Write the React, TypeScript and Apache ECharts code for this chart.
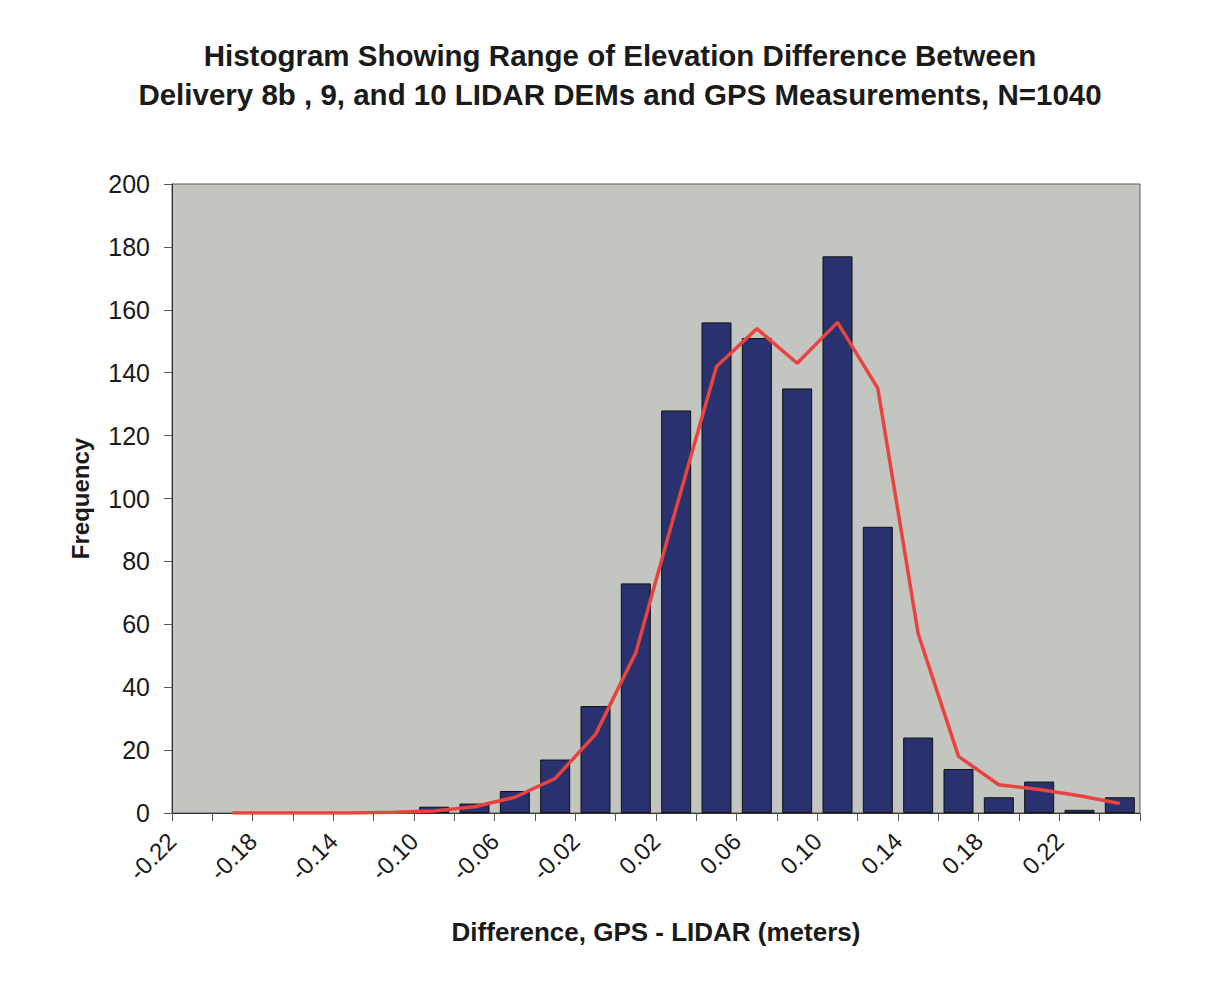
import React, { useEffect, useRef } from "react";
import * as echarts from "echarts";

// Histogram bins: lower edges (meters), width 0.02
const binStarts = [
  -0.22, -0.2, -0.18, -0.16, -0.14, -0.12, -0.1, -0.08, -0.06, -0.04, -0.02, 0.0,
  0.02, 0.04, 0.06, 0.08, 0.1, 0.12, 0.14, 0.16, 0.18, 0.2, 0.22, 0.24,
];
const binWidth = 0.02;
const frequency = [
  0, 0, 0, 0, 0, 0, 2, 3, 7, 17, 34, 73, 128, 156, 151, 135, 177, 91, 24, 14, 5, 10, 1, 5,
];
const fitted = [
  null, 0, 0, 0, 0, 0.2, 0.6, 2, 5, 11, 25, 51, 97, 142, 154, 143, 156, 135, 57, 18, 9, 7.5, 5.5, 3,
];
const yTicks = { min: 0, max: 200, interval: 20 };
const xRange = { min: -0.22, max: 0.26, interval: 0.02 };

const titleText =
  "Histogram Showing Range of Elevation Difference Between\nDelivery 8b , 9, and 10 LIDAR DEMs and GPS Measurements, N=1040";
const xName = "Difference, GPS - LIDAR (meters)";
const yName = "Frequency";

const FONT = "'Liberation Sans', Arial, Helvetica, sans-serif";

export default function App() {
  const ref = useRef<HTMLDivElement>(null);
  useEffect(() => {
    if (!ref.current) return;
    const chart = echarts.init(ref.current, undefined, { renderer: "svg" });
    const centers = binStarts.map((s) => Math.round((s + binWidth / 2) * 1000) / 1000);
    const barData = centers.map((c, i) => [c, frequency[i]]).filter((d) => (d[1] as number) > 0);
    const lineData = centers
      .map((c, i) => [c, fitted[i]])
      .filter((d) => d[1] !== null);
    chart.setOption({
      animation: false,
      backgroundColor: "#ffffff",
      textStyle: { fontFamily: FONT },
      title: {
        text: titleText,
        left: 615,
        textAlign: "center",
        top: 31,
        textStyle: {
          fontFamily: FONT,
          fontSize: 29.5,
          fontWeight: "bold",
          color: "#1a1a1a",
          lineHeight: 39,
        },
      },
      grid: {
        left: 172,
        right: 74,
        top: 184,
        bottom: 189,
        show: true,
        backgroundColor: "#c3c5c0",
        borderColor: "#5a5a5a",
        borderWidth: 1,
      },
      xAxis: {
        type: "value",
        min: xRange.min,
        max: xRange.max,
        interval: xRange.interval,
        name: xName,
        nameLocation: "middle",
        nameGap: 106,
        nameTextStyle: { fontFamily: FONT, fontSize: 26, fontWeight: "bold", color: "#1a1a1a" },
        axisLine: { show: true, onZero: false, lineStyle: { color: "#333", width: 1 } },
        axisTick: { show: true, length: 8, lineStyle: { color: "#555" } },
        splitLine: { show: false },
        axisLabel: {
          rotate: 45,
          margin: 24,
          fontFamily: FONT,
          fontSize: 24,
          color: "#1a1a1a",
          showMinLabel: true,
          showMaxLabel: true,
          formatter: (v: number) => {
            const k = Math.round(v * 100);
            if ((k + 22) % 4 !== 0 || k > 22) return "";
            return (k < 0 ? "-" : "") + (Math.abs(k) / 100).toFixed(2);
          },
        },
      },
      yAxis: {
        type: "value",
        min: yTicks.min,
        max: yTicks.max,
        interval: yTicks.interval,
        name: yName,
        nameLocation: "middle",
        nameGap: 80,
        nameRotate: 90,
        nameTextStyle: { fontFamily: FONT, fontSize: 24, fontWeight: "bold", color: "#1a1a1a" },
        axisLine: { show: true, onZero: false, lineStyle: { color: "#333", width: 1 } },
        axisTick: { show: true, length: 8, lineStyle: { color: "#555" } },
        splitLine: { show: false },
        axisLabel: { margin: 22, fontFamily: FONT, fontSize: 25, color: "#1a1a1a" },
      },
      series: [
        {
          type: "bar",
          data: barData,
          barWidth: 30,
          itemStyle: { color: "#29316f", borderColor: "#111", borderWidth: 1 },
        },
        {
          type: "line",
          data: lineData,
          symbol: "none",
          lineStyle: { color: "#e8433f", width: 3.5 },
        },
      ],
    });
    return () => chart.dispose();
  }, []);
  return (
    <div
      ref={ref}
      style={{ position: "fixed", left: 0, top: 0, width: 1214, height: 1002, background: "#fff" }}
    />
  );
}
